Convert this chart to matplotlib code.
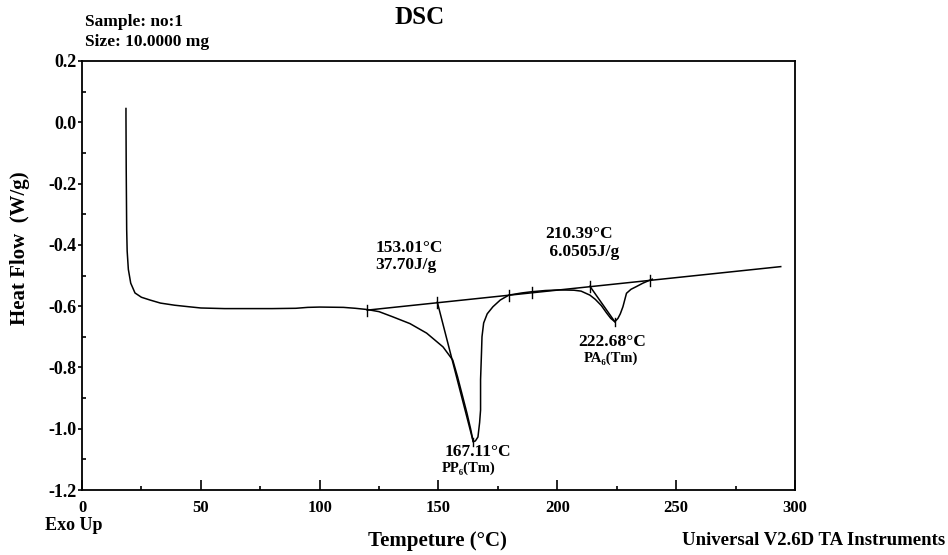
import numpy as np
import matplotlib.pyplot as plt
from matplotlib.ticker import MultipleLocator

plt.rcParams['font.family'] = ['Liberation Serif', 'DejaVu Serif']
plt.rcParams['font.weight'] = 'bold'

# DSC trace
temp = [18.5, 18.5, 18.6, 18.7, 18.8, 19.0, 19.5, 20.5, 22.3, 25, 28.6, 33, 39, 45, 50,
        60, 70, 80, 90, 95, 100, 110, 115, 120, 125, 130.8, 138, 145, 151.9, 156,
        158, 160, 162, 163.5, 164.6, 165.5, 166.6, 167.3, 167.7, 167.7, 168.1, 168.3,
        169, 170.5, 172.9, 176, 179.6, 185, 189.2, 195, 201, 207, 210, 213.7, 216,
        218.5, 220.7, 222.5, 224.2, 225.5, 226.5, 227.6, 229.1, 231, 233.3, 236, 239, 240]
heat = [0.045, 0.02, -0.15, -0.25, -0.35, -0.42, -0.48, -0.525, -0.557, -0.571, -0.58,
        -0.59, -0.597, -0.602, -0.606, -0.608, -0.608, -0.608, -0.607, -0.604, -0.603,
        -0.604, -0.607, -0.611, -0.618, -0.635, -0.657, -0.688, -0.733, -0.776,
        -0.83, -0.89, -0.95, -1.0, -1.042, -1.04, -1.027, -0.98, -0.939, -0.84, -0.75,
        -0.70, -0.655, -0.625, -0.602, -0.58, -0.564, -0.557, -0.553, -0.549, -0.547,
        -0.548, -0.551, -0.564, -0.578, -0.598, -0.622, -0.64, -0.651, -0.64, -0.625,
        -0.602, -0.558, -0.545, -0.536, -0.525, -0.515, -0.512]

# extrapolated baseline and its tick points
base_x = [120, 294]
base_y = [-0.613, -0.471]
base_ticks = [120, 149.5, 179.6, 189.2, 213.7, 239]

# tangent lines used for onset/peak
tan1_x = [149.5, 164.6]
tan1_y = [-0.587, -1.042]
tan2_x = [213.7, 224.2]
tan2_y = [-0.535, -0.651]

fig = plt.figure(figsize=(9.48, 5.55), dpi=100)
ax = fig.add_axes([0.0865, 0.1171, 0.7521, 0.773])

ax.plot(temp, heat, color='black', lw=1.1)
ax.plot(base_x, base_y, color='black', lw=1.1)
ax.plot(tan1_x, tan1_y, color='black', lw=1.1)
ax.plot(tan2_x, tan2_y, color='black', lw=1.1)

slope = (base_y[1] - base_y[0]) / (base_x[1] - base_x[0])
for bx in base_ticks:
    by = base_y[0] + slope * (bx - base_x[0])
    ax.plot([bx, bx], [by - 0.018, by + 0.018], color='black', lw=1.0)
ax.plot([224.2, 224.2], [-0.665, -0.64], color='black', lw=1.0)
ax.plot([164.6, 164.6], [-1.055, -1.03], color='black', lw=1.0)

ax.set_xlim(0, 300)
ax.set_ylim(-1.2, 0.2)
ax.xaxis.set_major_locator(MultipleLocator(50))
ax.xaxis.set_minor_locator(MultipleLocator(25))
ax.yaxis.set_major_locator(MultipleLocator(0.2))
ax.yaxis.set_minor_locator(MultipleLocator(0.1))
ax.tick_params(axis='x', which='major', direction='in', length=7, width=1.2, labelsize=12, pad=7)
ax.tick_params(axis='x', which='minor', direction='in', length=3, width=1.2)
ax.tick_params(axis='y', which='major', direction='out', length=3, width=1.2, labelsize=13, pad=1)
ax.tick_params(axis='y', which='minor', direction='in', length=3, width=1.2)
ax.set_yticklabels(['%.1f' % v for v in ax.get_yticks()])
for lab in ax.get_xticklabels() + ax.get_yticklabels():
    lab.set_fontweight('bold')
for s in ax.spines.values():
    s.set_linewidth(1.3)

fs = 12.5
ax.text(123.5, -0.385, '153.01\u00b0C\n37.70J/g', fontsize=fs, fontweight='bold',
        va='top', ha='left', linespacing=1.1)
ax.text(195, -0.34, '210.39\u00b0C\n 6.0505J/g', fontsize=fs, fontweight='bold',
        va='top', ha='left', linespacing=1.1)
ax.text(209, -0.69, '222.68\u00b0C', fontsize=fs, fontweight='bold', va='top')
ax.text(211, -0.748, 'PA\u2086(Tm)', fontsize=10.5, fontweight='bold', va='top')
ax.text(166.5, -1.05, '167.11\u00b0C', fontsize=fs, fontweight='bold', va='top', ha='center')
ax.text(162.5, -1.107, 'PP\u2086(Tm)', fontsize=10.5, fontweight='bold', va='top', ha='center')

fig.text(0.0215, 0.553, 'Heat Flow  (W/g)', fontsize=15, fontweight='bold', rotation=90,
         ha='center', va='center')
fig.text(0.4425, 0.968, 'DSC', fontsize=18, fontweight='bold', ha='center', va='center')
fig.text(0.0897, 0.96, 'Sample: no:1', fontsize=12.5, fontweight='bold', ha='left', va='center')
fig.text(0.0897, 0.924, 'Size: 10.0000 mg', fontsize=12.5, fontweight='bold', ha='left', va='center')
fig.text(0.047, 0.054, 'Exo Up', fontsize=13, fontweight='bold', ha='left', va='center')
fig.text(0.461, 0.025, 'Tempeture (\u00b0C)', fontsize=15, fontweight='bold', ha='center', va='center')
fig.text(0.997, 0.027, 'Universal V2.6D TA Instruments', fontsize=13.5, fontweight='bold',
         ha='right', va='center')

fig.savefig('out.png', dpi=100)
